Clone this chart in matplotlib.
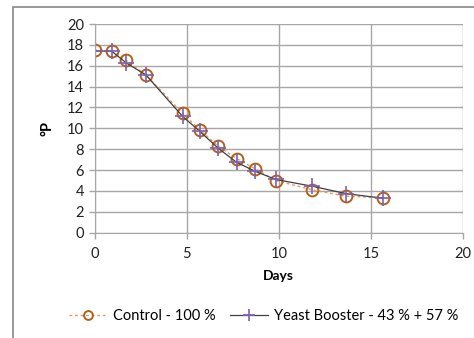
import matplotlib.pyplot as plt
from matplotlib.patches import Rectangle

plt.rcParams['font.family'] = ['Lato', 'DejaVu Sans']

days = [0, 0.93, 1.7, 2.8, 4.78, 5.72, 6.71, 7.71, 8.7, 9.84, 11.83, 13.63, 15.65]
control = [17.5, 17.4, 16.55, 15.1, 11.45, 9.85, 8.3, 7.1, 6.15, 5.0, 4.1, 3.5, 3.35]
booster = [17.4, 17.4, 16.3, 15.1, 11.15, 9.7, 8.1, 6.75, 5.9, 5.1, 4.45, 3.75, 3.3]

fig = plt.figure(figsize=(4.74, 3.38), dpi=100)
# outer chart-area border
fig.patches.append(Rectangle((13/474, -0.1), 1.2, 1 - 7/338 + 0.1, transform=fig.transFigure,
                             fill=False, edgecolor='#888888', lw=1.2))
ax = fig.add_axes([94.5/474, 1 - 232.7/338, (463 - 94.5)/474, (232.7 - 24)/338])

ax.plot(days, control, linestyle=(0, (2, 2)), color='#e39a5c', lw=1,
        marker='o', markersize=8.5, markerfacecolor='none', markeredgecolor='#b5601a',
        markeredgewidth=1.4, label='Control - 100 %')
ax.plot(days, booster, linestyle='-', color='#404040', lw=0.9,
        marker='+', markersize=12, markeredgecolor='#7e60b0', markeredgewidth=1.2,
        label='Yeast Booster - 43 % + 57 %')

ax.set_xlim(0, 20)
ax.set_ylim(0, 20)
ax.set_xticks([0, 5, 10, 15, 20])
ax.set_yticks(range(0, 21, 2))
ax.grid(True, color='#a6a6a6', lw=1)
ax.set_axisbelow(True)
for s in ['top', 'right']:
    ax.spines[s].set_visible(False)
for s in ['left', 'bottom']:
    ax.spines[s].set_color('#a6a6a6')
ax.tick_params(colors='#a6a6a6', labelcolor='#222222', labelsize=10.5, length=4, width=1)
ax.tick_params(axis='x', pad=6)
ax.set_xlabel('Days', fontsize=10, fontweight='bold', labelpad=7)
ax.set_ylabel('°P', fontsize=10.5, fontweight='bold', labelpad=9)

fig.legend(loc='center', bbox_to_anchor=(0.556, 1 - 316/338), ncol=2, frameon=False,
           fontsize=10.5, handlelength=2.6, columnspacing=1.0, handletextpad=0.4,
           markerscale=0.75)

fig.savefig('out.png', dpi=100)
